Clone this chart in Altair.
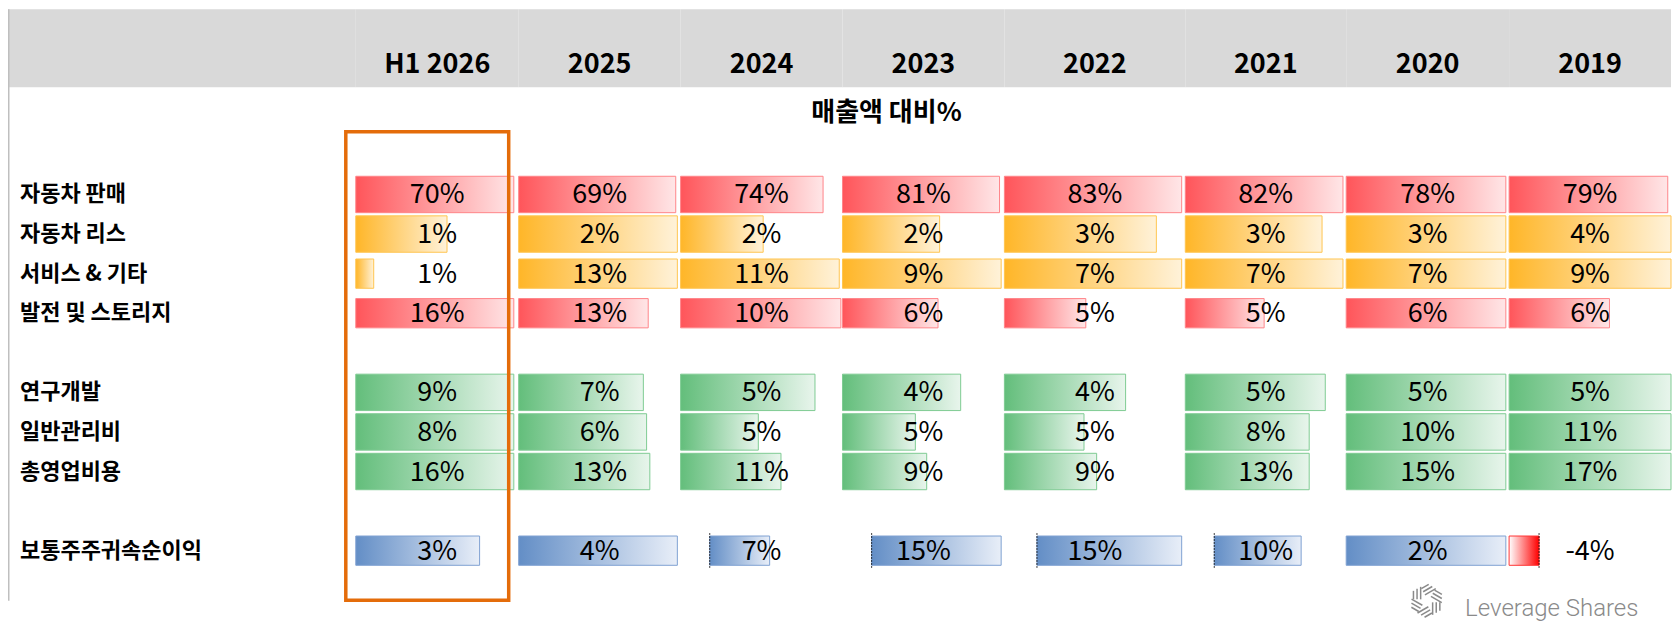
import math
import altair as alt
import pandas as pd

# ---------------- data ----------------
years = ["H1 2026", "2025", "2024", "2023", "2022", "2021", "2020", "2019"]
row_labels = ["자동차 판매", "자동차 리스", "서비스 & 기타", "발전 및 스토리지",
              "연구개발", "일반관리비", "총영업비용", "보통주주귀속순이익"]

# displayed values, % of revenue
auto_sales = [70, 69, 74, 81, 83, 82, 78, 79]
auto_leasing = [1, 2, 2, 2, 3, 3, 3, 4]
services_other = [1, 13, 11, 9, 7, 7, 7, 9]
energy_storage = [16, 13, 10, 6, 5, 5, 6, 6]
rnd = [9, 7, 5, 4, 4, 5, 5, 5]
sga = [8, 6, 5, 5, 5, 8, 10, 11]
total_opex = [16, 13, 11, 9, 9, 13, 15, 17]
net_income = [3, 4, 7, 15, 15, 10, 2, -4]

# data-bar fill level (percent of the cell)
bar_auto_sales = [97, 97, 88, 97, 98, 98, 98, 98]
bar_auto_leasing = [56, 98, 51, 60, 84, 85, 98, 100]
bar_services_other = [11, 98, 98, 98, 98, 98, 98, 100]
bar_energy_storage = [97, 80, 99, 59, 45, 49, 98, 62]
bar_rnd = [97, 77, 83, 73, 67, 87, 98, 100]
bar_sga = [97, 79, 48, 45, 44, 77, 98, 100]
bar_total_opex = [97, 81, 62, 52, 51, 77, 98, 100]
bar_net_income = [76, 98, 55, 98, 98, 72, 98, 0]
ni_axis = [0, 0, 18, 18, 18, 18, 0, 18.5]   # data-bar axis (negative range)

values = [auto_sales, auto_leasing, services_other, energy_storage,
          rnd, sga, total_opex, net_income]
fills = [bar_auto_sales, bar_auto_leasing, bar_services_other, bar_energy_storage,
         bar_rnd, bar_sga, bar_total_opex, bar_net_income]

# ---------------- layout / style ----------------
KR = "Noto Sans CJK KR"
H = 610
LABEL_W = 348
COL_W = [163, 162, 162, 162, 181, 161, 163, 162]
ROW_ORDER = ["자동차 판매", "자동차 리스", "서비스 & 기타", "발전 및 스토리지", None,
             "연구개발", "일반관리비", "총영업비용", None, "보통주주귀속순이익"]
THIN = {"서비스 & 기타", "발전 및 스토리지", "보통주주귀속순이익"}
ROW_GROUP = ["red", "orange", "orange", "red", "green", "green", "green", "blue"]
PALETTE = {
    "red": ("#FF555A", "#FFE6E7", "#FF8589"),
    "orange": ("#FFB628", "#FFF2D9", "#FFC550"),
    "green": ("#63BE7B", "#E8F5EC", "#7ECB93"),
    "blue": ("#638EC6", "#E8EEF8", "#7FA2D2"),
    "neg": ("#FFFFFF", "#FF0000", "#FF3535"),
}

ys = alt.Scale(domain=[-4.682, 10.722], reverse=True, nice=False, zero=False)
xs = alt.Scale(domain=[0, 100], nice=False, zero=False)

records = []
for r, name in enumerate(row_labels):
    slot = ROW_ORDER.index(name)
    for c, yr in enumerate(years):
        v = values[r][c]
        f = fills[r][c]
        ax = ni_axis[c] if r == 7 else 0
        group = ROW_GROUP[r]
        if v < 0:
            group = "neg"
        records.append(dict(col=yr, row=name, slot=slot, label=f"{v}%",
                            start=min(ax, f), end=max(ax, f), axis=ax,
                            group=group, thin=name in THIN))
df = pd.DataFrame(records)
one = pd.DataFrame({"k": [0]})


def header(w):
    return alt.Chart(one).mark_rect(color="#D9D9D9").encode(
        x=alt.value(0), x2=alt.value(w), y=alt.value(0), y2=alt.value(78))


def bar_layer(d, g):
    base, light, border = PALETTE[g]
    grad = alt.Gradient(gradient="linear",
                        stops=[alt.GradientStop(color=base, offset=0),
                               alt.GradientStop(color=light, offset=1)],
                        x1=0, x2=1, y1=0, y2=0)
    return alt.Chart(d[d.group == g]).transform_calculate(
        y0="datum.slot - (datum.thin ? 0.37 : 0.46)",
        y1="datum.slot + (datum.thin ? 0.37 : 0.46)",
    ).mark_rect(fill=grad, stroke=border, strokeWidth=1).encode(
        x=alt.X("start:Q", scale=xs, axis=None),
        x2="end:Q",
        y=alt.Y("y0:Q", scale=ys, axis=None),
        y2="y1:Q",
    )


def col_panel(c):
    w = COL_W[c]
    d = df[df.col == years[c]]
    layers = [header(w),
              alt.Chart(pd.DataFrame({"year": [years[c]]})).mark_text(
                  font=KR, fontSize=27, fontWeight="bold", color="black",
                  baseline="middle").encode(
                  x=alt.value(w / 2), y=alt.value(56), text="year:N")]
    for g in ["red", "orange", "green", "blue", "neg"]:
        if (d.group == g).any():
            layers.append(bar_layer(d, g))
    da = d[d.axis > 0]
    if len(da):
        layers.append(alt.Chart(da).transform_calculate(
            ya="datum.slot - 0.44", yb="datum.slot + 0.44"
        ).mark_rule(color="black", strokeDash=[1.5, 1.5], strokeWidth=1).encode(
            x=alt.X("axis:Q", scale=xs, axis=None),
            y=alt.Y("ya:Q", scale=ys, axis=None), y2="yb:Q"))
    layers.append(alt.Chart(d).mark_text(
        font=KR, fontSize=27, color="black", baseline="middle", dy=1).encode(
        x=alt.XDatum(50, type="quantitative", scale=xs, axis=None),
        y=alt.Y("slot:Q", scale=ys, axis=None),
        text="label:N"))
    if c == 0:
        layers.append(alt.Chart(one).mark_rect(
            filled=False, stroke="#E46C0A", strokeWidth=3.5).encode(
            x=alt.value(-10), x2=alt.value(153), y=alt.value(122.7), y2=alt.value(591.3)))
    if c == 3:
        layers.append(alt.Chart(pd.DataFrame({"t": ["매출액 대비%"]})).mark_text(
            font=KR, fontSize=26, fontWeight="bold", color="black",
            baseline="middle").encode(x=alt.value(44), y=alt.value(104), text="t:N"))
    if c == 7:
        layers.append(alt.Chart(pd.DataFrame({"t": ["Leverage Shares"]})).mark_text(
            font="Roboto", fontSize=24, fontWeight=300, color="#8A8A8A",
            align="left", baseline="alphabetic").encode(
            x=alt.value(-44), y=alt.value(607), text="t:N"))
        # logo glyph: pinwheel of triple strokes
        segs = []
        cx, cy = -82.5, 592
        for k in range(6):
            a = math.radians(180 + 60 * k)
            nx, ny = math.cos(a), math.sin(a)
            tx, ty = -ny, nx
            for j in range(3):
                dd = 6 + 3.6 * j
                t0, t1 = 1.5, 14 - 2 * j
                segs.append(dict(
                    x0=cx + nx * dd + tx * t0, y0=cy + ny * dd + ty * t0,
                    x1=cx + nx * dd + tx * t1, y1=cy + ny * dd + ty * t1))
        layers.append(alt.Chart(pd.DataFrame(segs)).mark_rule(
            color="#8A8A8A", strokeWidth=1.5).encode(
            x=alt.X("x0:Q", scale=None), x2="x1:Q",
            y=alt.Y("y0:Q", scale=None), y2="y1:Q"))
    return alt.layer(*layers).properties(width=w, height=H).resolve_scale(
        x="independent", y="independent")


lab = pd.DataFrame({"row": row_labels,
                    "slot": [ROW_ORDER.index(n) for n in row_labels]})
label_panel = alt.layer(
    header(LABEL_W),
    alt.Chart(one).mark_rule(color="#BFBFBF", strokeWidth=1.5).encode(
        x=alt.value(0.75), y=alt.value(0), y2=alt.value(592)),
    alt.Chart(lab).mark_text(font=KR, fontSize=22, fontWeight="bold",
                             color="black", align="left", baseline="middle").encode(
        x=alt.value(12), y=alt.Y("slot:Q", scale=ys, axis=None), text="row:N"),
).properties(width=LABEL_W, height=H)

chart = alt.hconcat(label_panel, *[col_panel(c) for c in range(8)],
                    spacing=0, bounds="flush").properties(
    padding=0).configure_view(strokeWidth=0)

chart.save("out.html", embed_options={"renderer": "svg", "actions": False})
